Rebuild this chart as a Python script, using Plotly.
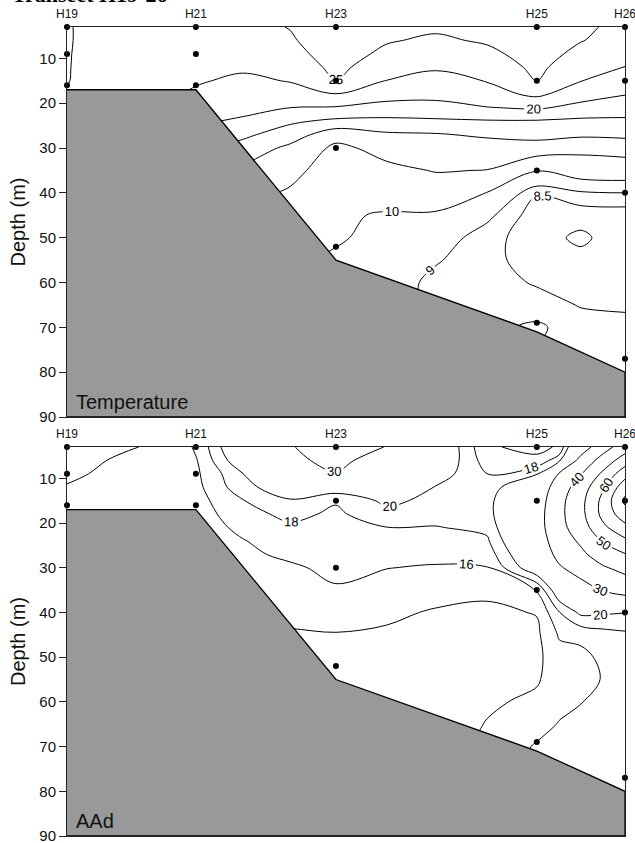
import plotly.graph_objects as go

FONT = "Arial, Liberation Sans, sans-serif"

# ---- stations / bathymetry -------------------------------------------------
stations = ["H19", "H21", "H23", "H25", "H26"]
station_km = [0.0, 2.31, 4.82, 8.42, 10.0]
seafloor_depth = [17, 17, 55, 71, 80]
bottom_limit = 90

# sample depths at each station (dots)
sample_depths = {
    "H19": [3, 9, 16],
    "H21": [3, 9, 16],
    "H23": [3, 15, 30, 52],
    "H25": [3, 15, 35, 69],
    "H26": [3, 15, 40, 77],
}

# ---- gridded sections ------------------------------------------------------
grid_depth = [3, 6, 9, 12, 15, 18, 21, 24, 27, 30, 35, 40, 45, 50, 55, 60, 65, 70, 75, 80]

temp_km = [0.0, 0.77, 1.54, 2.31, 3.15, 4.0, 4.82, 5.72, 6.61, 7.53, 8.42, 9.21, 10.0]
temperature = [
    [25.05, 24.7, 24.3, 24.0, 24.2, 25.1, 27.0, 25.8, 25.4, 25.9, 27.0, 25.4, 24.4],
    [25.05, 24.7, 24.2, 23.9, 23.8, 24.7, 26.6, 25.2, 24.6, 25.3, 26.6, 25.1, 24.0],
    [25.05, 24.6, 24.0, 23.6, 23.3, 24.2, 26.1, 24.5, 23.8, 24.4, 26.1, 24.3, 23.3],
    [25.05, 24.5, 23.8, 23.2, 22.8, 23.5, 25.6, 23.6, 22.8, 23.4, 25.6, 23.3, 22.45],
    [25.05, 24.3, 23.5, 22.7, 22.1, 22.6, 25.02, 22.45, 21.6, 22.6, 25.02, 22.55, 21.6],
    [24.9, 24.0, 23.1, 22.2, 21.4, 21.7, 22.4, 20.9, 20.6, 21.6, 23.0, 21.0, 20.1],
    [24.5, 23.5, 22.5, 21.0, 20.6, 20.0, 19.8, 19.2, 19.3, 19.9, 20.3, 19.3, 18.6],
    [24.0, 23.0, 22.0, 20.3, 19.7, 17.9, 17.0, 16.9, 17.1, 17.3, 17.3, 17.0, 17.1],
    [23.0, 22.0, 21.0, 19.2, 18.0, 16.3, 13.4, 14.6, 14.8, 15.4, 15.8, 15.4, 15.5],
    [22.0, 21.0, 20.0, 18.0, 16.6, 14.4, 12.0, 13.2, 13.6, 13.8, 13.9, 13.3, 13.7],
    [20.0, 19.0, 18.0, 16.0, 14.5, 13.0, 11.6, 12.0, 12.6, 12.45, 10.05, 10.7, 10.8],
    [18.0, 17.0, 16.0, 14.5, 13.0, 12.3, 11.1, 11.0, 11.4, 9.95, 8.55, 8.9, 9.0],
    [16.0, 15.0, 14.0, 13.0, 12.0, 11.2, 10.3, 9.8, 9.7, 9.15, 8.2, 8.2, 8.2],
    [15.0, 14.0, 13.0, 12.0, 11.0, 10.6, 10.15, 9.6, 9.35, 8.7, 8.2, 7.9, 8.3],
    [14.0, 13.0, 12.0, 11.0, 10.5, 10.2, 9.8, 9.4, 9.05, 8.7, 8.2, 8.15, 8.35],
    [13.0, 12.0, 11.0, 10.5, 10.0, 9.9, 9.6, 9.3, 8.85, 8.7, 8.45, 8.35, 8.4],
    [12.0, 11.0, 10.5, 10.0, 9.8, 9.7, 9.5, 9.3, 8.85, 8.75, 8.7, 8.47, 8.45],
    [11.0, 10.5, 10.0, 9.8, 9.6, 9.5, 9.4, 9.3, 8.9, 8.85, 9.1, 8.7, 8.6],
    [10.5, 10.0, 9.8, 9.6, 9.5, 9.4, 9.3, 9.3, 8.9, 8.85, 8.95, 8.75, 8.7],
    [10.0, 9.8, 9.6, 9.5, 9.4, 9.3, 9.3, 9.3, 8.9, 8.85, 8.85, 8.8, 8.75],
]

aad_km = [0.0, 0.77, 1.54, 2.31, 3.15, 4.0, 4.82, 5.72, 6.61, 7.53, 8.42, 8.82, 9.21, 9.61, 10.0]
aad = [
    [16.8, 16.4, 15.8, 16.02, 23.5, 29.5, 34.0, 29.8, 23.0, 16.3, 15.3, 16.3, 25.0, 36.0, 45.0],
    [16.5, 15.95, 15.7, 15.8, 22.0, 28.0, 32.5, 25.5, 22.5, 17.0, 16.6, 19.2, 33.0, 44.0, 55.0],
    [16.3, 15.7, 15.6, 15.6, 19.95, 24.0, 29.6, 23.0, 21.2, 17.9, 19.8, 30.5, 39.5, 52.0, 66.0],
    [15.9, 15.6, 15.5, 15.4, 19.3, 21.5, 21.5, 21.5, 19.9, 18.8, 23.0, 35.0, 44.5, 59.0, 76.0],
    [15.7, 15.5, 15.4, 15.2, 17.9, 19.8, 18.2, 20.5, 19.4, 19.2, 25.0, 37.0, 47.0, 63.0, 82.0],
    [15.5, 15.4, 15.3, 15.0, 17.2, 18.6, 17.6, 19.4, 18.8, 19.1, 26.0, 37.5, 47.0, 63.0, 76.0],
    [15.4, 15.3, 15.2, 14.9, 16.5, 17.6, 17.3, 17.95, 17.9, 18.5, 26.0, 37.0, 45.0, 58.0, 67.0],
    [15.3, 15.2, 15.1, 14.8, 15.9, 17.0, 17.0, 17.5, 17.3, 17.7, 25.0, 35.0, 41.5, 51.0, 58.0],
    [15.2, 15.1, 15.0, 14.7, 15.6, 16.4, 16.8, 16.9, 16.6, 16.9, 23.5, 32.5, 38.0, 45.0, 49.5],
    [15.1, 15.0, 14.9, 14.6, 15.3, 15.7, 16.5, 16.05, 15.8, 15.9, 22.0, 29.0, 34.0, 39.0, 43.0],
    [15.0, 14.9, 14.8, 14.4, 14.8, 15.0, 15.8, 15.2, 14.8, 14.4, 16.1, 22.0, 26.0, 30.5, 33.0],
    [14.9, 14.8, 14.7, 14.2, 14.3, 14.5, 14.8, 14.4, 13.8, 13.6, 14.1, 17.9, 20.5, 20.3, 20.05],
    [14.8, 14.7, 14.6, 14.1, 13.8, 13.8, 13.9, 13.7, 13.2, 13.2, 13.6, 16.2, 16.5, 17.2, 17.6],
    [14.7, 14.6, 14.5, 14.1, 13.5, 13.4, 13.2, 13.2, 12.9, 13.1, 13.5, 15.3, 15.5, 16.4, 17.3],
    [14.6, 14.5, 14.4, 14.1, 13.3, 13.2, 13.0, 13.0, 12.8, 13.3, 13.8, 15.0, 15.4, 16.1, 17.2],
    [14.5, 14.4, 14.3, 14.1, 13.2, 13.1, 12.9, 12.9, 12.8, 13.7, 14.4, 15.5, 15.95, 16.4, 17.4],
    [14.4, 14.3, 14.2, 14.1, 13.2, 13.1, 12.9, 12.9, 12.8, 14.1, 15.3, 16.1, 16.5, 16.8, 17.6],
    [14.3, 14.2, 14.2, 14.1, 13.2, 13.1, 12.9, 12.9, 12.8, 14.5, 16.2, 16.6, 17.0, 17.1, 17.8],
    [14.2, 14.2, 14.2, 14.1, 13.2, 13.1, 12.9, 12.9, 12.8, 14.8, 16.5, 16.9, 17.2, 17.3, 17.9],
    [14.2, 14.2, 14.2, 14.1, 13.2, 13.1, 12.9, 12.9, 12.8, 15.0, 16.7, 17.0, 17.3, 17.4, 17.9],
]

# contour level sets: (start, end, step, labelled)
temp_levels = [(10, 25, 5, True), (12.5, 22.5, 5, False), (8, 9, 0.5, True)]
aad_levels = [(14, 20, 2, True), (30, 80, 10, True)]

panel_names = ["Temperature", "AAd"]
depth_ticks = [10, 20, 30, 40, 50, 60, 70, 80, 90]

# ---- figure -----------------------------------------------------------------
fig = go.Figure()


def add_panel(xs, zs, levels, xa, ya):
    for start, end, step, lab in levels:
        fig.add_trace(go.Contour(
            x=xs, y=grid_depth, z=zs,
            autocontour=False,
            contours=dict(coloring="none", start=start, end=end, size=step,
                          showlabels=lab,
                          labelfont=dict(size=13, color="black", family=FONT)),
            line=dict(color="black", width=1, smoothing=1.0),
            showscale=False, hoverinfo="skip",
            xaxis=xa, yaxis=ya,
        ))
    # bathymetry
    bx = station_km + [station_km[-1], station_km[0]]
    by = seafloor_depth + [bottom_limit, bottom_limit]
    fig.add_trace(go.Scatter(
        x=bx, y=by, fill="toself", fillcolor="#999999", mode="lines",
        line=dict(color="black", width=1.3), hoverinfo="skip",
        xaxis=xa, yaxis=ya,
    ))
    # sample dots
    px, py = [], []
    for s, km in zip(stations, station_km):
        for d in sample_depths[s]:
            px.append(km)
            py.append(d)
    fig.add_trace(go.Scatter(
        x=px, y=py, mode="markers",
        marker=dict(color="black", size=6),
        cliponaxis=False, hoverinfo="skip",
        xaxis=xa, yaxis=ya,
    ))


add_panel(temp_km, temperature, temp_levels, "x", "y")
add_panel(aad_km, aad, aad_levels, "x2", "y2")

W, H = 635, 843
xdom = [67 / W, 625 / W]
ydom1 = [1 - 417 / H, 1 - 27 / H]
ydom2 = [1 - 836 / H, 1 - 447 / H]

xcommon = dict(
    domain=xdom, range=[0, 10], side="top", automargin=False,
    tickmode="array", tickvals=station_km, ticktext=stations,
    ticks="outside", ticklen=3, tickcolor="rgba(0,0,0,0)",
    tickfont=dict(size=12, color="#111", family=FONT),
    ticklabeloverflow="allow",
    showline=True, linecolor="#222", linewidth=1, mirror=True,
    showgrid=False, zeroline=False,
)
ycommon = dict(
    range=[bottom_limit, 3], tickmode="array", tickvals=depth_ticks, automargin=False,
    ticks="outside", ticklen=7, tickcolor="#222",
    tickfont=dict(size=15, color="#111", family=FONT),
    ticklabeloverflow="allow",
    showline=True, linecolor="#222", linewidth=1, mirror=True,
    showgrid=False, zeroline=False,
    title=dict(text="Depth (m)", font=dict(size=20, color="#111", family=FONT), standoff=8),
)

fig.update_layout(
    width=W, height=H, margin=dict(l=0, r=0, t=0, b=0, autoexpand=False),
    paper_bgcolor="white", plot_bgcolor="white", showlegend=False,
    font=dict(family=FONT, color="#111"),
    xaxis=dict(**xcommon, anchor="y"),
    yaxis=dict(**ycommon, domain=ydom1, anchor="x"),
    xaxis2=dict(**xcommon, anchor="y2"),
    yaxis2=dict(**ycommon, domain=ydom2, anchor="x2"),
)

fig.add_annotation(text="<b>Transect H19-26</b>", xref="paper", yref="paper",
                   x=10 / W, y=1 - 9 / H, xanchor="left", yanchor="bottom",
                   showarrow=False,
                   font=dict(size=22, family="Liberation Serif, Times New Roman, serif", color="black"))

for name, xr, yr in [(panel_names[0], "x domain", "y domain"), (panel_names[1], "x2 domain", "y2 domain")]:
    fig.add_annotation(text=name, xref=xr, yref=yr, x=0.012, y=0.004,
                       xanchor="left", yanchor="bottom", showarrow=False,
                       font=dict(size=20, family=FONT, color="#111"))

fig.write_html(
    "out.html",
    config={"displayModeBar": False},
    post_script="document.body.style.margin='0';document.body.style.padding='0';"
                "document.documentElement.style.overflow='hidden';",
)
